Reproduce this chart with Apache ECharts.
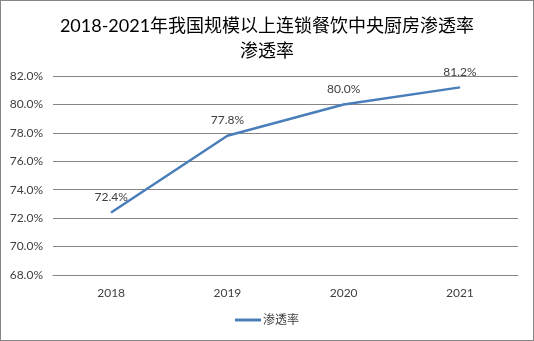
<!DOCTYPE html>
<html>
<head>
<meta charset="utf-8">
<script src="https://cdn.jsdelivr.net/npm/echarts@6/dist/echarts.min.js"></script>
<style>
  html, body { margin: 0; padding: 0; background: #fff; }
  #chart { width: 532px; height: 339px; border: 1px solid #868686; }
</style>
</head>
<body>
<div id="chart"></div>
<script>
const titleText = '2018-2021年我国规模以上连锁餐饮中央厨房渗透率\n渗透率';
const seriesName = '渗透率';
const years = ['2018', '2019', '2020', '2021'];
const penetration = [72.4, 77.8, 80.0, 81.2];

const font = "Lato, 'Noto Sans CJK SC', sans-serif";
const chart = echarts.init(document.getElementById('chart'), null, { renderer: 'canvas' });

chart.setOption({
  animation: false,
  backgroundColor: '#fff',
  title: {
    text: titleText,
    left: 'center',
    top: 8,
    textStyle: { fontFamily: font, fontSize: 18, fontWeight: 'normal', color: '#000', lineHeight: 25 }
  },
  grid: { left: 52, right: 15, top: 75, bottom: 65 },
  xAxis: {
    type: 'category',
    data: years,
    boundaryGap: true,
    axisLine: { lineStyle: { color: '#868686', width: 1 } },
    axisTick: { show: false },
    axisLabel: { fontFamily: font, fontSize: 12, color: '#404040', margin: 12 }
  },
  yAxis: {
    type: 'value',
    min: 68,
    max: 82,
    interval: 2,
    axisLine: { show: false },
    axisTick: { show: false },
    splitLine: { lineStyle: { color: '#868686', width: 1 } },
    axisLabel: {
      fontFamily: font, fontSize: 12, color: '#404040', margin: 10,
      formatter: v => v.toFixed(1) + '%'
    }
  },
  legend: {
    bottom: 9,
    left: 'center',
    itemWidth: 26,
    itemHeight: 3,
    itemGap: 4,
    icon: 'rect',
    textStyle: { fontFamily: font, fontSize: 12, color: '#404040', padding: [0, 0, 0, -3] },
    data: [seriesName]
  },
  series: [{
    name: seriesName,
    type: 'line',
    data: penetration,
    showSymbol: true,
    symbol: 'circle',
    symbolSize: 1,
    lineStyle: { color: '#4A7EBB', width: 2.5 },
    itemStyle: { color: '#4A7EBB' },
    label: {
      show: true,
      position: 'top',
      distance: 9,
      fontFamily: font,
      fontSize: 12,
      color: '#404040',
      formatter: p => p.value.toFixed(1) + '%'
    }
  }]
});
</script>
</body>
</html>
